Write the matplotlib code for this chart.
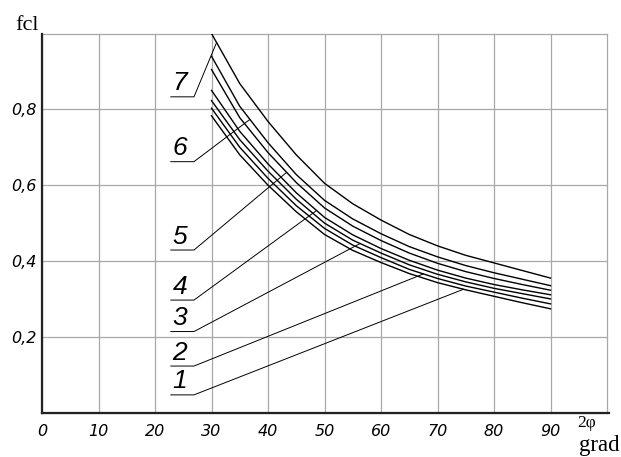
import matplotlib
matplotlib.use("Agg")
import matplotlib.pyplot as plt
import numpy as np

# ---- data ----
angle = [30, 35, 40, 45, 50, 55, 60, 65, 70, 75, 80, 85, 90]
curve_1 = [0.783, 0.680, 0.600, 0.530, 0.470, 0.428, 0.396, 0.367, 0.343, 0.324, 0.307, 0.290, 0.274]
curve_2 = [0.803, 0.700, 0.618, 0.546, 0.486, 0.442, 0.409, 0.378, 0.354, 0.334, 0.318, 0.302, 0.287]
curve_3 = [0.823, 0.720, 0.637, 0.563, 0.500, 0.455, 0.421, 0.390, 0.365, 0.345, 0.328, 0.314, 0.300]
curve_4 = [0.850, 0.742, 0.656, 0.580, 0.515, 0.469, 0.433, 0.402, 0.376, 0.355, 0.338, 0.324, 0.311]
curve_5 = [0.905, 0.778, 0.686, 0.607, 0.540, 0.492, 0.454, 0.421, 0.394, 0.372, 0.354, 0.338, 0.323]
curve_6 = [0.940, 0.808, 0.712, 0.628, 0.560, 0.511, 0.472, 0.438, 0.411, 0.388, 0.369, 0.352, 0.335]
curve_7 = [1.000, 0.868, 0.768, 0.680, 0.605, 0.551, 0.508, 0.470, 0.440, 0.415, 0.395, 0.375, 0.355]
curves = [curve_1, curve_2, curve_3, curve_4, curve_5, curve_6, curve_7]
curve_names = ["1", "2", "3", "4", "5", "6", "7"]

# label underline heights and leader target angles
label_y = [0.047, 0.123, 0.214, 0.297, 0.429, 0.662, 0.833]
leader_x = [74.6, 67.5, 56.3, 48.6, 43.3, 36.8, 30.9]

x_ticks = [0, 10, 20, 30, 40, 50, 60, 70, 80, 90, 100]
x_tick_labels = ["0", "10", "20", "30", "40", "50", "60", "70", "80", "90", ""]
y_ticks = [0, 0.2, 0.4, 0.6, 0.8, 1.0]
y_tick_labels = ["", "0,2", "0,4", "0,6", "0,8", ""]

W, H = 621, 457
fig = plt.figure(figsize=(W / 100, H / 100), dpi=100)
ax = fig.add_axes([42 / W, 1 - 412.7 / H, (607 - 42) / W, (412.7 - 33.5) / H])
ax.set_xlim(0, 100)
ax.set_ylim(0, 1.0)

ax.set_xticks(x_ticks)
ax.set_xticklabels(x_tick_labels, fontsize=11.5, fontstyle="italic",
                   family="DejaVu Sans")
ax.set_yticks(y_ticks)
ax.set_yticklabels(y_tick_labels, fontsize=11.5, fontstyle="italic",
                   family="DejaVu Sans")
ax.tick_params(length=0)
ax.tick_params(axis="x", pad=8)
ax.tick_params(axis="y", pad=4)
ax.grid(True, color="#a8a8a8", linewidth=0.9)
for gl in ax.get_xgridlines() + ax.get_ygridlines():
    gl.set_clip_on(False)
ax.set_axisbelow(True)
for s in ["top", "right"]:
    ax.spines[s].set_visible(False)
for s in ["left", "bottom"]:
    ax.spines[s].set_linewidth(1.6)
    ax.spines[s].set_color("#222222")
ax.spines["bottom"].set_bounds(0, 100.3)

for c in curves:
    ax.plot(angle, c, color="black", linewidth=1.0, zorder=3,
            solid_joinstyle="round")

# number labels with leaders
for name, ly, lx, c in zip(curve_names, label_y, leader_x, curves):
    ty = np.interp(lx, angle, c)
    ax.plot([22.8, 26.9, lx], [ly, ly, ty], color="black", linewidth=0.7,
            zorder=3)
    ax.text(24.4, ly + 0.004, name, fontsize=19, fontstyle="italic",
            family="Liberation Sans", ha="center", va="bottom", zorder=4)

fig.text(27 / W, 1 - 25 / H, "fcl", family="Liberation Serif", fontsize=16,
         ha="center", va="center")
fig.text(587 / W, 1 - 423 / H, "2\u03c6", family="Liberation Serif",
         fontsize=12.5, ha="center", va="center")
fig.text(599 / W, 1 - 445 / H, "grad", family="Liberation Serif",
         fontsize=16.5, ha="center", va="center")

fig.savefig("out.png", dpi=100)
